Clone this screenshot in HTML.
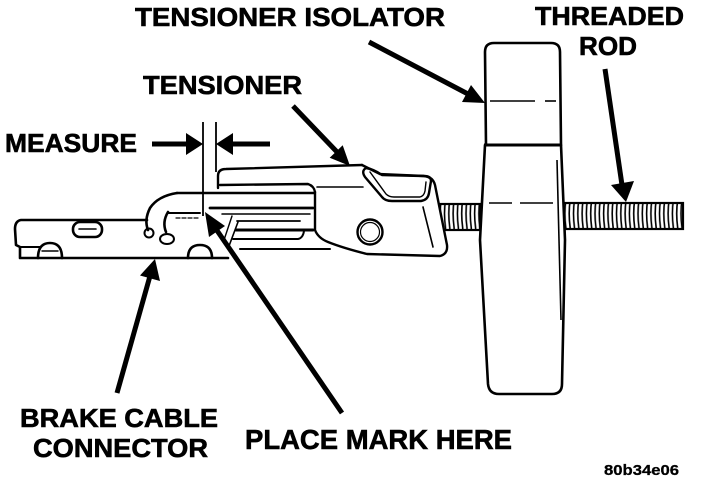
<!DOCTYPE html>
<html><head><meta charset="utf-8"><style>
html,body{margin:0;padding:0;background:#fff;}
svg{display:block;}
text{font-family:"Liberation Sans",Arial,sans-serif;font-weight:bold;fill:#000;stroke:#000;stroke-width:0.6;}
</style></head><body>
<svg width="704" height="480" viewBox="0 0 704 480" xmlns="http://www.w3.org/2000/svg">
<defs>
<pattern id="thr" x="0" y="0" width="4.3" height="40" patternUnits="userSpaceOnUse">
<path d="M2.6,0 Q0.6,13 2.6,28 L2.6,40" fill="none" stroke="#000" stroke-width="1.6"/>
</pattern>
</defs>
<rect width="704" height="480" fill="#fff"/>

<!-- Labels -->
<text x="135" y="26" font-size="26" textLength="310" lengthAdjust="spacingAndGlyphs">TENSIONER ISOLATOR</text>
<text x="535" y="25" font-size="26" textLength="149" lengthAdjust="spacingAndGlyphs">THREADED</text>
<text x="579" y="55" font-size="26" textLength="58" lengthAdjust="spacingAndGlyphs">ROD</text>
<text x="143" y="94" font-size="26" textLength="159" lengthAdjust="spacingAndGlyphs">TENSIONER</text>
<text x="5" y="152" font-size="26" textLength="132" lengthAdjust="spacingAndGlyphs">MEASURE</text>
<text x="20" y="427" font-size="26" textLength="198" lengthAdjust="spacingAndGlyphs">BRAKE CABLE</text>
<text x="33" y="457" font-size="26" textLength="175" lengthAdjust="spacingAndGlyphs">CONNECTOR</text>
<text x="245" y="449" font-size="28" textLength="267" lengthAdjust="spacingAndGlyphs">PLACE MARK HERE</text>
<text x="604" y="475" font-size="15" textLength="75" lengthAdjust="spacingAndGlyphs" style="stroke-width:0.3">80b34e06</text>

<!-- Arrows -->
<g stroke="#000" stroke-width="5" fill="none" stroke-linecap="butt">
<line x1="152" y1="144" x2="190" y2="144"/>
<line x1="230" y1="144" x2="270" y2="144"/>
<line x1="293" y1="106" x2="338" y2="153"/>
<line x1="369" y1="42" x2="468" y2="94"/>
<line x1="605" y1="69" x2="622" y2="185"/>
<line x1="117" y1="393" x2="150" y2="276"/>
<line x1="342" y1="413" x2="216" y2="229"/>
</g>
<g fill="#000">
<polygon points="203,144 186,133 186,155"/>
<polygon points="216,144 233,133 233,155"/>
<polygon points="350,166 329.7,157.7 342.7,145.3"/>
<polygon points="485,103 462,102 471,85"/>
<polygon points="626,202 611,185 634,181"/>
<polygon points="155,259 140,275.5 160,281"/>
<polygon points="205,212 225,226 209,237"/>
</g>

<!-- measure lines -->
<g stroke="#000" stroke-width="1.8" fill="none">
<line x1="203" y1="122" x2="203" y2="216"/>
<line x1="216" y1="122" x2="216" y2="172"/>
</g>

<!-- Threaded rod -->
<rect x="562" y="203" width="121" height="26" fill="url(#thr)" stroke="#000" stroke-width="2.2"/>
<rect x="437" y="204" width="43" height="26" fill="url(#thr)" stroke="#000" stroke-width="2.2"/>

<!-- Isolator -->
<g stroke="#000" stroke-width="2.6" fill="#fff" stroke-linejoin="round">
<path d="M485,145 L480,240 L488,384 Q489,394 499,394 L552,394 Q562,394 562,384 L565,240 L561,145 Z"/>
<path d="M486,145 L485,52 Q485,43 494,43 L551,43 Q560,43 560,52 L561,145 Z"/>
</g>
<g stroke="#000" stroke-width="1.6" fill="none">
<line x1="490" y1="101" x2="535" y2="101"/>
<line x1="545" y1="101" x2="556" y2="101"/>
<line x1="489" y1="203" x2="512" y2="203"/>
<line x1="520" y1="203" x2="553" y2="203"/>
<line x1="557" y1="160" x2="561" y2="320"/>
</g>
<line x1="484" y1="145" x2="562" y2="145" stroke="#000" stroke-width="3"/>

<!-- Tensioner body -->
<path d="M218,176 Q218,169 226,169 L362,165 Q372,170 380,174 L424,176 Q433,177 435,185 L447,245 Q448,254 440,256 L367,254 Q343,248 328,242 Q318,238 315,230 L315,190 L218,190 Z" fill="#fff" stroke="none"/>
<g stroke="#000" stroke-width="2.4" fill="none" stroke-linejoin="round" stroke-linecap="round">
<!-- top edge of tensioner -->
<path d="M218,188 L218,176 Q218,169 226,169 L362,165"/>
<!-- body outline -->
<path d="M362,165 Q372,170 380,174 L424,176 Q433,177 435,185 L447,245 Q448,254 440,256 L367,254 Q343,248 328,242 Q318,238 315,230 L315,192"/>
<!-- upper block -->
<path d="M220,185 L308,184 Q314,186 315,192"/>
<!-- slot -->
<path d="M366,168 Q361,171 365,177 L382,197 Q385,201 392,201 L421,201 Q428,200 429,193 L431,181 Q431,176 424,176 L382,175 Q373,169 366,168 Z"/>
<path d="M370,172 L386,194 Q389,197 394,197 L420,197 Q424,196 425,191 L426,182" stroke-width="1.4"/>
<!-- bolt -->
<circle cx="370" cy="232" r="12.5"/>
<circle cx="370" cy="232" r="9.5" stroke-width="1.2"/>
<!-- body lines -->
<line x1="317" y1="187" x2="363" y2="187" stroke-width="1.6"/>
<line x1="423" y1="207" x2="433" y2="247" stroke-width="1.6"/>
<!-- stacked channel lines -->
<line x1="177" y1="193" x2="314" y2="193" stroke-width="2.6"/>
<line x1="210" y1="208" x2="313" y2="208" stroke-width="2.8"/>
<line x1="222" y1="214" x2="310" y2="214" stroke-width="1.5"/>
<line x1="237" y1="221" x2="300" y2="221" stroke-width="1.8"/>
<line x1="236" y1="230" x2="313" y2="230" stroke-width="3"/>
<path d="M233,239 L298,239 Q303,238 304,231" stroke-width="2"/>
<line x1="240" y1="249" x2="330" y2="249" stroke-width="2"/>
<line x1="238" y1="222" x2="229" y2="246" stroke-width="1.6"/>
<line x1="232" y1="216" x2="224" y2="240" stroke-width="1.4"/>
</g>

<!-- Brake cable connector -->
<g stroke="#000" stroke-width="2.6" fill="none" stroke-linejoin="round" stroke-linecap="round">
<path d="M147,220 L21,220 Q15,221 15,229 L16,245 L20,247 L20,258 L228,258"/>
<line x1="20" y1="247" x2="40" y2="247" stroke-width="2"/>
<path d="M38,258 Q38,243 50,243 Q62,243 62,258"/>
<line x1="42" y1="251" x2="58" y2="251" stroke-width="1.4"/>
<path d="M188,258 Q188,245 200,245 Q212,245 212,258"/>
<rect x="73" y="222" width="29" height="15" rx="7"/>
<line x1="79" y1="229" x2="96" y2="229" stroke-width="1.6"/>
<!-- hook -->
<path d="M177,193 Q158,196 150,208 Q144,220 148,230"/>
<path d="M168,212 Q162,222 166,232"/>
<line x1="168" y1="213" x2="200" y2="213" stroke-width="2"/>
<line x1="176" y1="218" x2="200" y2="218" stroke-width="1.2" stroke-dasharray="4,2"/>
<circle cx="149" cy="233" r="4.5" stroke-width="2"/>
<ellipse cx="167" cy="239" rx="7" ry="5" stroke-width="2"/>
</g>
</svg>
</body></html>
